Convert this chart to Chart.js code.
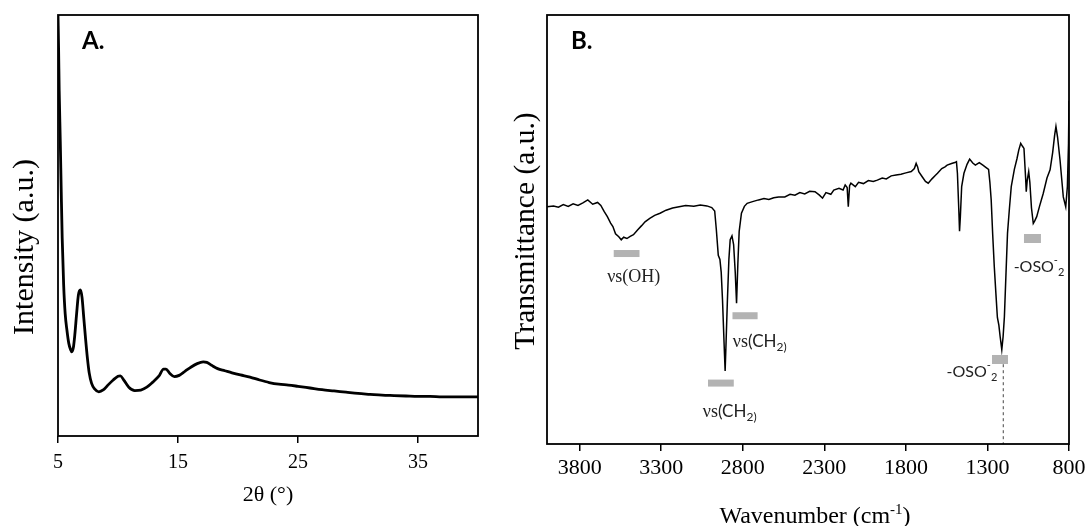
<!DOCTYPE html>
<html>
<head>
<meta charset="utf-8">
<script src="https://cdn.jsdelivr.net/npm/chart.js@4"></script>
<style>
html, body { margin: 0; padding: 0; background: #fff; overflow: hidden; }
#boxA { position: absolute; left: 0; top: 0; width: 500px; height: 526px; }
#boxB { position: absolute; left: 500px; top: 0; width: 591px; height: 526px; }
</style>
</head>
<body>
<div id="boxA"><canvas id="chartA" width="500" height="526"></canvas></div>
<div id="boxB"><canvas id="chartB" width="591" height="526"></canvas></div>
<script>
// A. XRD pattern (2theta in degrees, intensity in arbitrary units 0-100)
var twoTheta = [5.00, 5.05, 5.10, 5.19, 5.27, 5.35, 5.47, 5.60, 5.75, 5.90, 6.05, 6.15, 6.28, 6.40, 6.55, 6.70, 6.86, 7.00, 7.15, 7.30, 7.45, 7.60, 7.80, 8.05, 8.40, 8.80, 9.20, 9.60, 10.00, 10.20, 10.50, 10.90, 11.40, 11.90, 12.40, 12.90, 13.40, 13.80, 14.00, 14.30, 14.70, 15.10, 15.60, 16.10, 16.60, 17.10, 17.40, 17.80, 18.30, 18.90, 19.50, 20.20, 21.00, 21.80, 22.60, 23.40, 24.20, 25.00, 26.00, 27.00, 28.00, 29.00, 30.00, 31.00, 32.00, 33.00, 34.00, 35.00, 36.00, 37.00, 38.00, 39.00, 40.00];
var intensity = [100, 92, 82, 70, 58, 47, 36, 29, 25, 22, 20.5, 20, 21, 24, 29, 33.5, 34.7, 33, 28, 23, 18.5, 15, 12.5, 11.2, 10.5, 11, 12.2, 13.3, 14.2, 14.3, 13.2, 11.6, 10.8, 10.9, 11.6, 12.8, 14.2, 15.9, 15.9, 14.9, 14.1, 14.4, 15.4, 16.4, 17.2, 17.6, 17.5, 16.8, 16.0, 15.5, 15.0, 14.5, 14.0, 13.3, 12.7, 12.3, 12.1, 11.8, 11.4, 11.0, 10.7, 10.4, 10.1, 9.9, 9.7, 9.6, 9.5, 9.4, 9.4, 9.3, 9.3, 9.3, 9.3];
var xrdTicks = [5, 15, 25, 35];

// B. FTIR spectrum (wavenumber in cm-1, transmittance in arbitrary units 0-100)
var wavenumber = [4000, 3960, 3930, 3900, 3870, 3840, 3810, 3780, 3750, 3720, 3690, 3670, 3650, 3630, 3610, 3596, 3580, 3560, 3545, 3530, 3510, 3490, 3470, 3445, 3420, 3399, 3370, 3340, 3307, 3270, 3230, 3190, 3150, 3100, 3060, 3020, 2990, 2972, 2962, 2950, 2940, 2932, 2924, 2915, 2908, 2902, 2894, 2885, 2877, 2866, 2856, 2846, 2838, 2830, 2822, 2808, 2790, 2773, 2740, 2703, 2670, 2640, 2610, 2580, 2542, 2510, 2480, 2450, 2420, 2390, 2357, 2330, 2311, 2290, 2260, 2242, 2210, 2185, 2172, 2160, 2153, 2145, 2137, 2110, 2090, 2060, 2030, 2000, 1975, 1945, 1920, 1890, 1860, 1830, 1800, 1767, 1748, 1737, 1728, 1721, 1700, 1680, 1663, 1640, 1620, 1606, 1580, 1560, 1547, 1520, 1500, 1490, 1484, 1475, 1471, 1466, 1458, 1444, 1425, 1409, 1390, 1374, 1350, 1328, 1310, 1293, 1285, 1277, 1268, 1258, 1248, 1239, 1230, 1222, 1212, 1204, 1196, 1186, 1177, 1165, 1154, 1135, 1119, 1108, 1096, 1085, 1076, 1066, 1062, 1056, 1047, 1040, 1030, 1019, 1010, 998, 980, 958, 935, 916, 900, 888, 880, 870, 855, 835, 820, 810, 803, 800];
var transmittance = [55.3, 55.5, 55.2, 55.8, 55.4, 56.0, 55.6, 56.2, 56.9, 55.9, 56.3, 55.6, 54.2, 53.0, 51.5, 50.7, 49.0, 48.3, 47.6, 48.2, 47.9, 48.4, 48.8, 49.9, 50.9, 51.8, 52.6, 53.3, 53.8, 54.5, 55.0, 55.3, 55.6, 55.4, 55.7, 55.5, 55.1, 54.3, 50.0, 44.0, 43.0, 40.0, 33.5, 24.0, 17.0, 24.0, 33.6, 43.0, 47.6, 48.5, 46.5, 40.0, 32.8, 42.0, 49.5, 53.8, 55.4, 56.1, 56.5, 56.9, 57.2, 57.0, 57.4, 57.6, 57.6, 58.2, 58.0, 58.6, 58.3, 58.9, 58.8, 58.0, 57.3, 58.6, 58.2, 59.2, 59.6, 59.2, 60.4, 59.8, 55.3, 60.2, 60.8, 60.0, 61.0, 60.7, 61.4, 61.2, 61.5, 62.0, 61.8, 62.5, 62.7, 62.9, 63.2, 63.5, 64.2, 65.4, 64.6, 63.5, 62.3, 61.2, 60.8, 61.8, 62.6, 63.1, 64.2, 64.6, 65.0, 65.4, 65.6, 65.8, 63.1, 54.0, 49.6, 53.0, 60.0, 63.1, 65.2, 66.4, 65.5, 65.0, 65.6, 65.0, 64.5, 64.0, 61.0, 56.9, 49.0, 41.3, 35.0, 29.5, 27.7, 25.0, 22.0, 25.0, 29.7, 40.0, 49.1, 55.0, 60.0, 64.0, 66.5, 68.5, 70.1, 69.4, 68.9, 62.0, 58.8, 61.5, 63.5, 61.0, 55.0, 51.4, 52.0, 53.0, 55.5, 58.4, 62.0, 63.9, 68.0, 72.0, 74.0, 71.5, 66.2, 57.6, 55.3, 60.0, 70.0, 80.0];
var ftirTicks = [3800, 3300, 2800, 2300, 1800, 1300, 800];

// band markers: grey bar centre (cm-1) and level
var bandCenters = [3512, 2934, 2786, 1223, 1024];
var bandLevels = [44.4, 14.2, 29.9, 19.7, 47.9];

var serif = '"Liberation Serif", "Times New Roman", serif';
var sans = 'Lato, "Open Sans", sans-serif';

function drawRich(ctx, parts, cx, cy) {
    var total = 0;
    parts.forEach(function(p) {
        ctx.font = p.size + 'px ' + p.family;
        p.w = ctx.measureText(p.t).width;
        total += p.w;
    });
    var x = cx - total / 2;
    ctx.textAlign = 'left';
    ctx.textBaseline = 'middle';
    parts.forEach(function(p) {
        ctx.font = p.size + 'px ' + p.family;
        ctx.fillText(p.t, x, cy + (p.dy || 0));
        x += p.w;
    });
}

function vsLabel(inner) {
    return [
        {t: 'νs', size: 18, family: serif},
        {t: '(' + inner, size: 17, family: sans},
        {t: '2)', size: 12, family: sans, dy: 5}
    ];
}
var osoLabel = [
    {t: '-OSO', size: 16, family: sans},
    {t: '-', size: 11, family: sans, dy: -6},
    {t: '2', size: 11, family: sans, dy: 6}
];

var framePlugin = {
    id: 'frame',
    afterDraw: function(chart) {
        var a = chart.chartArea, ctx = chart.ctx;
        ctx.save();
        ctx.strokeStyle = '#000';
        ctx.lineWidth = 1.8;
        ctx.strokeRect(a.left, a.top, a.right - a.left, a.bottom - a.top);
        ctx.restore();
    }
};

function letterPlugin(txt, x, y) {
    return {
        id: 'letter' + txt,
        afterDraw: function(chart) {
            var ctx = chart.ctx;
            ctx.save();
            ctx.fillStyle = '#000';
            ctx.font = 'bold 24px ' + sans;
            ctx.textAlign = 'left';
            ctx.textBaseline = 'middle';
            ctx.fillText(txt, x, y);
            ctx.restore();
        }
    };
}

// vertical y title drawn by hand so it can sit below the axis middle
function yTitlePlugin(txt, x, y, size) {
    return {
        id: 'ytitle',
        afterDraw: function(chart) {
            var ctx = chart.ctx;
            ctx.save();
            ctx.translate(x, y);
            ctx.rotate(-Math.PI / 2);
            ctx.fillStyle = '#000';
            ctx.font = size + 'px ' + serif;
            ctx.textAlign = 'center';
            ctx.textBaseline = 'middle';
            ctx.fillText(txt, 0, 0);
            ctx.restore();
        }
    };
}

var bandPlugin = {
    id: 'bands',
    afterDatasetsDraw: function(chart) {
        var ctx = chart.ctx, xs = chart.scales.x, ys = chart.scales.y;
        ctx.save();
        // dashed guide under the strong -OSO- band
        ctx.strokeStyle = '#444';
        ctx.lineWidth = 1;
        ctx.setLineDash([3, 3]);
        ctx.beginPath();
        ctx.moveTo(xs.getPixelForValue(1203), ys.getPixelForValue(18.6));
        ctx.lineTo(xs.getPixelForValue(1203), ys.getPixelForValue(0));
        ctx.stroke();
        ctx.setLineDash([]);
        // grey bars
        ctx.fillStyle = '#b3b3b3';
        var halfW = [79, 79, 77, 49, 52];
        var barH = [7, 7, 7, 9, 9];
        bandCenters.forEach(function(c, i) {
            var x1 = xs.getPixelForValue(c + halfW[i]);
            var x2 = xs.getPixelForValue(c - halfW[i]);
            var y = ys.getPixelForValue(bandLevels[i]);
            ctx.fillRect(x1, y - barH[i] / 2, x2 - x1, barH[i]);
        });
        // labels
        ctx.fillStyle = '#222';
        drawRich(ctx, [{t: 'νs(OH)', size: 18, family: serif}], xs.getPixelForValue(3468), ys.getPixelForValue(38.9));
        drawRich(ctx, vsLabel('CH'), xs.getPixelForValue(2880), ys.getPixelForValue(7.5));
        drawRich(ctx, vsLabel('CH'), xs.getPixelForValue(2696), ys.getPixelForValue(23.8));
        drawRich(ctx, osoLabel, xs.getPixelForValue(1395), ys.getPixelForValue(16.8));
        drawRich(ctx, osoLabel, xs.getPixelForValue(984), ys.getPixelForValue(41.3));
        // x title with superscript
        ctx.fillStyle = '#000';
        drawRich(ctx, [
            {t: 'Wavenumber (cm', size: 24, family: serif},
            {t: '-1', size: 15, family: serif, dy: -7},
            {t: ')', size: 24, family: serif}
        ], (chart.chartArea.left + chart.chartArea.right) / 2 + 7, 517);
        ctx.restore();
    }
};

function plainTick(v) { return String(v); }

var xrdData = twoTheta.map(function(t, i) { return {x: t, y: intensity[i]}; });
var ftirData = wavenumber.map(function(w, i) { return {x: w, y: transmittance[i]}; });

new Chart(document.getElementById('chartA').getContext('2d'), {
    type: 'line',
    data: {
        datasets: [{
            data: xrdData,
            borderColor: '#000',
            borderWidth: 2.8,
            pointRadius: 0,
            fill: false,
            cubicInterpolationMode: 'monotone'
        }]
    },
    options: {
        responsive: false,
        animation: false,
        layout: {padding: {top: 15, right: 22, left: 0, bottom: 0}},
        plugins: {legend: {display: false}, tooltip: {enabled: false}},
        scales: {
            x: {
                type: 'linear', min: 5, max: 40,
                afterBuildTicks: function(scale) { scale.ticks = xrdTicks.map(function(v) { return {value: v}; }); },
                afterFit: function(scale) { scale.height = 90; },
                ticks: {color: '#000', font: {family: serif, size: 20}, padding: 8, maxRotation: 0, callback: plainTick},
                grid: {drawOnChartArea: false, drawTicks: true, tickLength: 7, color: '#000', lineWidth: 1.5},
                border: {display: false},
                title: {display: true, text: '2θ (°)', color: '#000', font: {family: serif, size: 22}, padding: {top: 0, bottom: 18}}
            },
            y: {
                min: 0, max: 100,
                afterFit: function(scale) { scale.width = 58; },
                ticks: {display: false},
                grid: {display: false},
                border: {display: false}
            }
        }
    },
    plugins: [framePlugin, letterPlugin('A.', 82, 41), yTitlePlugin('Intensity (a.u.)', 25, 247, 30)]
});

new Chart(document.getElementById('chartB').getContext('2d'), {
    type: 'line',
    data: {
        datasets: [{
            data: ftirData,
            borderColor: '#000',
            borderWidth: 1.5,
            pointRadius: 0,
            fill: false,
            tension: 0
        }]
    },
    options: {
        responsive: false,
        animation: false,
        layout: {padding: {top: 15, right: 22, left: 0, bottom: 0}},
        plugins: {legend: {display: false}, tooltip: {enabled: false}},
        scales: {
            x: {
                type: 'linear', min: 800, max: 4000, reverse: true,
                afterBuildTicks: function(scale) { scale.ticks = ftirTicks.map(function(v) { return {value: v}; }); },
                afterFit: function(scale) { scale.height = 82; },
                ticks: {color: '#000', font: {family: serif, size: 22}, padding: 4, maxRotation: 0, callback: plainTick},
                grid: {drawOnChartArea: false, drawTicks: true, tickLength: 7, color: '#000', lineWidth: 1.5},
                border: {display: false}
            },
            y: {
                min: 0, max: 100,
                afterFit: function(scale) { scale.width = 47; },
                ticks: {display: false},
                grid: {display: false},
                border: {display: false}
            }
        }
    },
    plugins: [framePlugin, bandPlugin, letterPlugin('B.', 71, 41), yTitlePlugin('Transmittance (a.u.)', 26, 231, 29.5)]
});
</script>
</body>
</html>
